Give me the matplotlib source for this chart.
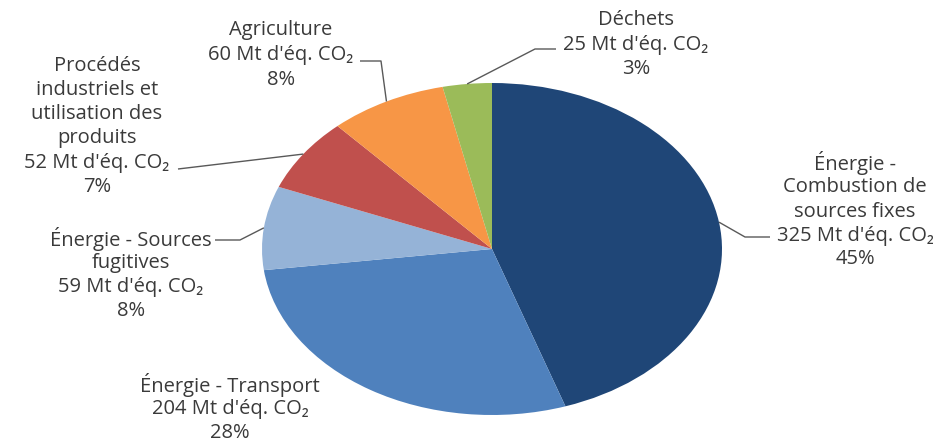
import matplotlib
matplotlib.use("Agg")
import matplotlib.pyplot as plt
import numpy as np

categories = ["Énergie - Combustion de sources fixes", "Énergie - Transport",
              "Énergie - Sources fugitives", "Procédés industriels et utilisation des produits",
              "Agriculture", "Déchets"]
values = [325, 204, 59, 52, 60, 25]
percents = ["45%", "28%", "8%", "7%", "8%", "3%"]
label_lines = [["Énergie -", "Combustion de", "sources fixes"],
               ["Énergie - Transport"],
               ["Énergie - Sources", "fugitives"],
               ["Procédés", "industriels et", "utilisation des", "produits"],
               ["Agriculture"],
               ["Déchets"]]
colors = ["#1F4677", "#4F81BD", "#95B3D7", "#C0504D", "#F79646", "#9BBB59"]

W, H = 947, 444
CX, CY, RX, RY = 492, 249, 230, 166

def px(x, y):
    return ((x - CX) / RX, (CY - y) / RY)

fig = plt.figure(figsize=(W / 100, H / 100), dpi=100)
ax = fig.add_axes([0, 0, 1, 1])
ax.axis("off")

wedges, _ = ax.pie(values, colors=colors, startangle=90, counterclock=False,
                   radius=1.0, wedgeprops=dict(linewidth=0))
ax.set_xlim((0 - CX) / RX, (W - CX) / RX)
ax.set_ylim((CY - H) / RY, (CY - 0) / RY)
ax.set_aspect("auto")

fam = ["Open Sans", "DejaVu Sans"]
tc = "#3A3A3A"
fs = 14.5

# text layout: (center x px, list of y px)
layout = [
    (855, [163, 187, 212, 236, 259]),
    (230, [385, 409, 433]),
    (131, [239, 263, 287, 311]),
    (97, [66, 90, 114, 138, 163, 187]),
    (281, [30, 55, 80]),
    (636, [20, 45, 69]),
]
for i, (xc, ys) in enumerate(layout):
    lines = label_lines[i] + [f"{values[i]} Mt d'éq. CO₂", percents[i]]
    for line, yy in zip(lines, ys):
        x, y = px(xc, yy)
        ax.text(x, y, line, ha="center", va="center", fontsize=fs,
                color=tc, family=fam)

# leader lines: start on the wedge edge at mid-angle, then via elbow points (px)
total = sum(values)
cum = np.cumsum([0] + values)
elbows = {
    0: [(745, 237), (770, 237)],
    2: [(240, 240), (215, 240)],
    3: [(178, 169)],
    4: [(381, 61), (360, 61)],
    5: [(535, 49), (556, 49)],
}
for i, pts in elbows.items():
    frac = (cum[i] + values[i] / 2) / total
    ang = np.deg2rad(90 - frac * 360)
    xs = [np.cos(ang)]
    ys = [np.sin(ang)]
    for (a, b) in pts:
        x, y = px(a, b)
        xs.append(x)
        ys.append(y)
    ax.plot(xs, ys, color="#595959", lw=1.0, solid_capstyle="butt")

fig.savefig("out.png", dpi=100)
